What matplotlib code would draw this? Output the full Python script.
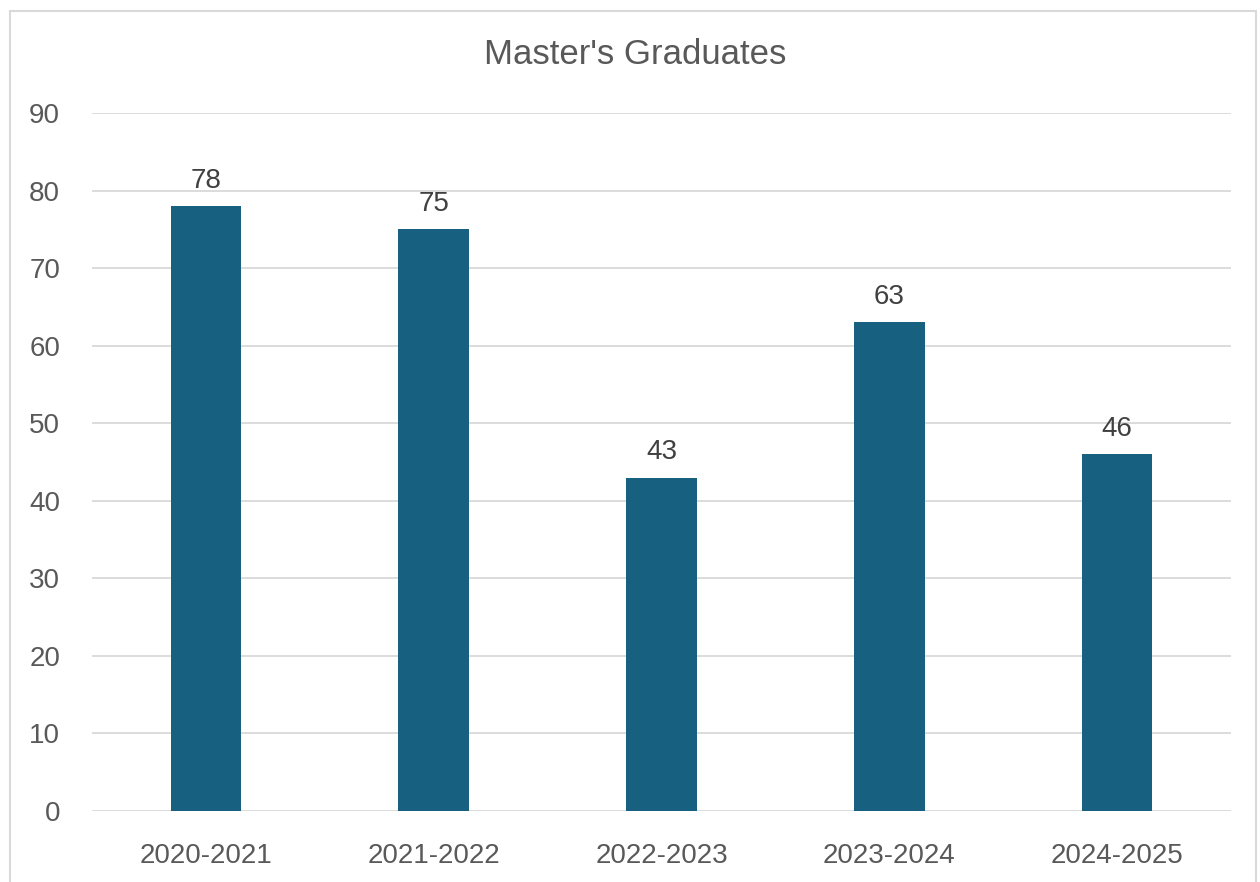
import matplotlib
matplotlib.use("Agg")
import matplotlib.pyplot as plt
from matplotlib.patches import Rectangle

# chart data
years = ["2020-2021", "2021-2022", "2022-2023", "2023-2024", "2024-2025"]
graduates = [78, 75, 43, 63, 46]
y_ticks = [0, 10, 20, 30, 40, 50, 60, 70, 80, 90]

plt.rcParams['font.family'] = ['Liberation Sans', 'DejaVu Sans']

fig = plt.figure(figsize=(12.6, 8.82), dpi=100)
ax = fig.add_axes([92 / 1260, 1 - 811 / 882, (1231 - 92) / 1260, (811 - 113) / 882])

xs = range(len(years))
bars = ax.bar(xs, graduates, width=0.31, color="#17607f", zorder=3)

for b, v in zip(bars, graduates):
    ax.annotate(str(v), (b.get_x() + b.get_width() / 2, v), xytext=(0, 9),
                textcoords="offset points", ha="center", va="bottom",
                fontsize=20, color="#404040")

ax.set_xlim(-0.5, len(years) - 0.5)
ax.set_ylim(0, 90)
ax.set_yticks(y_ticks)
ax.set_xticks(list(xs))
ax.set_xticklabels(years)
ax.grid(axis="y", color="#d9d9d9", linewidth=1.3, zorder=0)
for s in ax.spines.values():
    s.set_visible(False)
ax.tick_params(length=0, labelsize=20, labelcolor="#595959")
ax.tick_params(axis="y", pad=23)
ax.tick_params(axis="x", pad=23)

fig.text(635 / 1260, 1 - 55 / 882, "Master's Graduates", ha="center", va="center",
         fontsize=25, color="#595959")

# outer chart border
fig.patches.append(Rectangle((10 / 1260, -0.02), (1256 - 10) / 1260, 1.02 - 11 / 882,
                             transform=fig.transFigure, fill=False,
                             edgecolor="#d9d9d9", linewidth=1.5))

fig.savefig("out.png", dpi=100)
